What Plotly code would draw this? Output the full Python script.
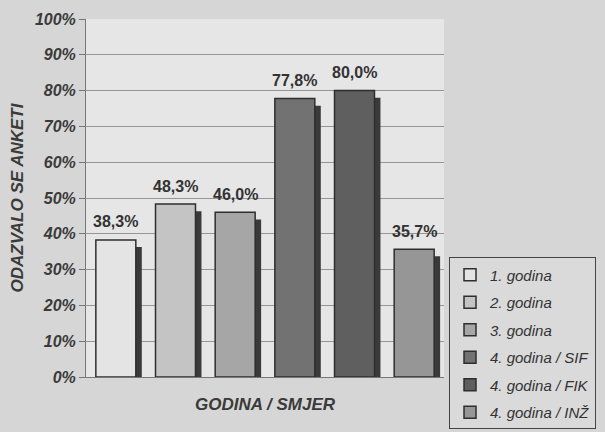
import plotly.graph_objects as go

categories = ["1. godina", "2. godina", "3. godina", "4. godina / SIF", "4. godina / FIK", "4. godina / INŽ"]
values = [38.3, 48.3, 46.0, 77.8, 80.0, 35.7]
bar_colors = ["#e4e4e4", "#c4c4c4", "#a6a6a6", "#727272", "#5f5f5f", "#969696"]
y_ticks = [0, 10, 20, 30, 40, 50, 60, 70, 80, 90, 100]
y_tick_labels = [f"{t}%" for t in y_ticks]

BAR_W = 0.67
SHIFT = 0.1

fig = go.Figure()

# shadows
fig.add_trace(go.Bar(
    x=categories, y=[v - 1.0 for v in values], base=[-1.0] * len(values),
    width=BAR_W, offset=-BAR_W / 2 + SHIFT,
    marker=dict(color="#3a3a3a", line=dict(width=0)),
    showlegend=False, hoverinfo="skip",
))

for i, (cat, val, col) in enumerate(zip(categories, values, bar_colors)):
    fig.add_trace(go.Bar(
        x=[cat], y=[val], name=cat, legendgroup=f"g{i}",
        width=BAR_W, offset=-BAR_W / 2,
        marker=dict(color=col, line=dict(color="#2e2e2e", width=1.5)),
        hoverinfo="skip",
    ))
    fig.add_annotation(
        x=cat, y=val, text=f"{val:.1f}%".replace(".", ","),
        showarrow=False, yanchor="middle", yshift=18,
        font=dict(family="Liberation Sans, Arial", size=16, color="#333333", weight="bold"),
    )

fig.update_layout(
    width=605, height=432,
    barmode="overlay",
    paper_bgcolor="#d6d6d6",
    plot_bgcolor="#e6e6e6",
    margin=dict(l=86, r=161, t=19, b=55, autoexpand=False),
    font=dict(family="Liberation Sans, Arial", color="#3a3a3a"),
    legend=dict(
        x=1.014, xanchor="left", y=0.334, yanchor="top",
        bgcolor="#dadada", bordercolor="#444444", borderwidth=1,
        font=dict(size=15, style="italic", color="#333333"),
        tracegroupgap=5, itemwidth=30,
    ),
    showlegend=True,
)

fig.update_xaxes(
    showticklabels=False, showgrid=False, automargin=False,
    showline=True, linecolor="#777777",
    title=dict(text="GODINA / SMJER", standoff=21,
               font=dict(size=17, weight="bold", style="italic", color="#3a3a3a")),
)
fig.update_yaxes(
    range=[0, 100], tickvals=y_ticks, ticktext=y_tick_labels, automargin=False,
    ticks="outside", ticklen=6, tickcolor="#777777",
    showgrid=True, gridcolor="#959595", gridwidth=1,
    showline=True, linecolor="#777777", zeroline=False,
    tickfont=dict(size=16, weight="bold", style="italic", color="#3a3a3a"),
    title=dict(text="ODAZVALO SE ANKETI", standoff=6,
               font=dict(size=17, weight="bold", style="italic", color="#3a3a3a")),
)

fig.write_html("out.html", config={"displayModeBar": False},
               post_script="document.body.style.margin='0';")
